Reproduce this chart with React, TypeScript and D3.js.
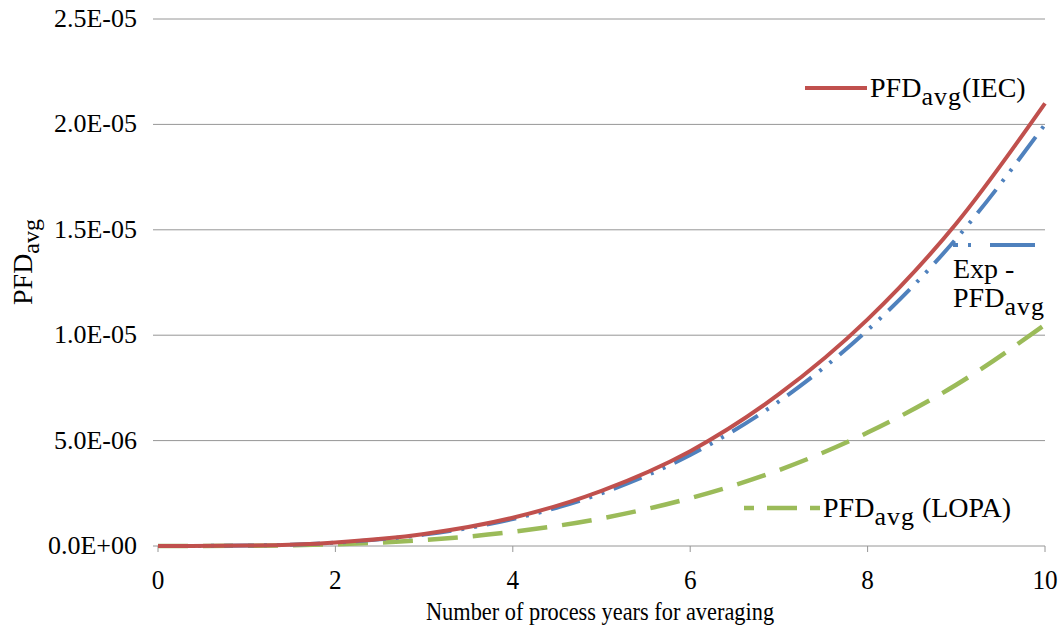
import React from "react";
import * as d3 from "d3";

const years = [0, 1, 2, 3, 4, 5, 6, 7, 8, 9, 10];
const pfdIEC = [0, 0.02e-6, 0.17e-6, 0.57e-6, 1.34e-6, 2.62e-6, 4.5e-6, 7.2e-6, 10.75e-6, 15.3e-6, 21.0e-6];
const pfdExp = [0, 0.019e-6, 0.16e-6, 0.54e-6, 1.28e-6, 2.5e-6, 4.32e-6, 6.86e-6, 10.24e-6, 14.58e-6, 20.0e-6];
const pfdLOPA = [0, 0.0105e-6, 0.084e-6, 0.28e-6, 0.67e-6, 1.31e-6, 2.27e-6, 3.6e-6, 5.38e-6, 7.65e-6, 10.5e-6];
const xTicks = [0, 2, 4, 6, 8, 10];
const yTicks = [0, 5e-6, 10e-6, 15e-6, 20e-6, 25e-6];
const yTickLabels = ["0.0E+00", "5.0E-06", "1.0E-05", "1.5E-05", "2.0E-05", "2.5E-05"];

const FONT = "'Liberation Serif', Tinos, 'Times New Roman', 'DejaVu Serif', serif";

export default function App() {
  const W = 1060, H = 630;
  const left = 158, right = 1045, top = 19, bottom = 546;
  const x = d3.scaleLinear().domain([0, 10]).range([left, right]);
  const y = d3.scaleLinear().domain([0, 2.5e-5]).range([bottom, top]);
  const line = (vals: number[]) =>
    d3.line<number>().x((_, i) => x(years[i])).y((d) => y(d)).curve(d3.curveMonotoneX)(vals) || "";

  const red = "#C0504D", blue = "#4F81BD", green = "#9BBB59";
  const ts = { fontFamily: FONT } as React.CSSProperties;
  const sub = { fontSize: 26, letterSpacing: 1 } as React.CSSProperties;

  return (
    <svg width={W} height={H} style={{ position: "absolute", left: 0, top: 0, background: "#fff", fontFamily: FONT }}>
      {yTicks.slice(1).map((t) => (
        <line key={t} x1={left} x2={right} y1={y(t)} y2={y(t)} stroke="#969696" strokeWidth={1} />
      ))}
      {yTicks.map((t, i) => (
        <g key={"yt" + t}>
          <line x1={left - 5} x2={left} y1={y(t)} y2={y(t)} stroke="#969696" />
          <text style={ts} x={137} y={y(t) + 8} textAnchor="end" fontSize={26} fill="#000">{yTickLabels[i]}</text>
        </g>
      ))}
      <line x1={left} x2={right} y1={bottom} y2={bottom} stroke="#969696" />
      {xTicks.map((t) => (
        <g key={"xt" + t}>
          <line x1={x(t)} x2={x(t)} y1={bottom} y2={bottom + 6} stroke="#969696" />
          <text style={ts} transform={`translate(${x(t)},589) scale(0.9,1)`} textAnchor="middle" fontSize={28} fill="#000">{t}</text>
        </g>
      ))}
      <text style={ts} transform="translate(600,620) scale(0.86,1)" textAnchor="middle" fontSize={26} fill="#000">Number of process years for averaging</text>
      <text style={ts} transform="translate(32,262) rotate(-90)" textAnchor="middle" fontSize={28} fill="#000">
        PFD<tspan fontSize={24} dy={7}>avg</tspan>
      </text>

      <path d={line(pfdLOPA)} fill="none" stroke={green} strokeWidth={4.5} strokeDasharray="30 15" />
      <path d={line(pfdExp)} fill="none" stroke={blue} strokeWidth={4} strokeDasharray="30 10 3 10 3 10" />
      <path d={line(pfdIEC)} fill="none" stroke={red} strokeWidth={4} />

      <line x1={805} x2={867} y1={88} y2={88} stroke={red} strokeWidth={4} />
      <text style={ts} x={870} y={97} fontSize={28} fill="#000">
        PFD<tspan style={sub} dy={8}>avg</tspan><tspan dy={-8}>(IEC)</tspan>
      </text>

      <line x1={953} x2={1037} y1={245} y2={245} stroke={blue} strokeWidth={4} strokeDasharray="5 10 3 19 45 10" />
      <text style={ts} x={953} y={278} fontSize={28} fill="#000">Exp -</text>
      <text style={ts} x={953} y={307} fontSize={28} fill="#000">
        PFD<tspan style={sub} dy={8}>avg</tspan>
      </text>

      <line x1={744} x2={820} y1={508} y2={508} stroke={green} strokeWidth={4.5} strokeDasharray="10 13 30 13 10" />
      <text style={ts} x={823} y={517} fontSize={28} fill="#000">
        PFD<tspan style={sub} dy={8}>avg</tspan><tspan dy={-8}> (LOPA)</tspan>
      </text>
    </svg>
  );
}
